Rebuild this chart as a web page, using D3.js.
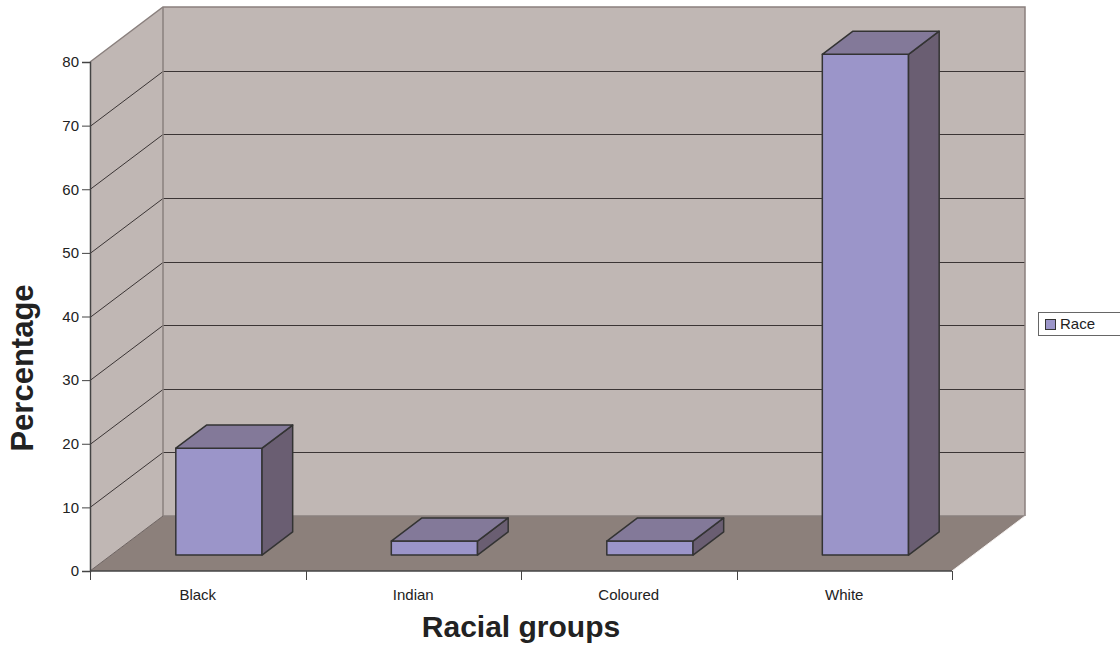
<!DOCTYPE html>
<html>
<head>
<meta charset="utf-8">
<script src="https://cdn.jsdelivr.net/npm/d3@7/dist/d3.min.js"></script>
<style>
  html, body { margin: 0; padding: 0; background: #fff; }
  svg { display: block; font-family: "Liberation Sans", Arial, sans-serif; }
</style>
</head>
<body>
<svg id="chart" width="1120" height="647"></svg>
<script>
// Data
const categories = ["Black", "Indian", "Coloured", "White"];
const raceValues = [16.8, 2.2, 2.2, 78.7];
const yTicks = [0, 10, 20, 30, 40, 50, 60, 70, 80];
const seriesName = "Race";

const svg = d3.select("#chart");

// Plot frame (front plane) and 3D depth offset
const x0 = 90, x1 = 952, yBase = 571, yTop = 62;
const depthX = 73, depthY = -55;
const barFront = 0.29, barBack = 0.71;

const x = d3.scaleBand().domain(categories).range([x0, x1])
  .paddingInner(0.6).paddingOuter(0.3);
const y = d3.scaleLinear().domain([0, 80]).range([yBase, yTop]);

const wallFill = "#c0b7b4", floorFill = "#8c807b", edge = "#8a807e";
const gridColor = "#3b3535";

const pts = a => a.map(p => p.join(",")).join(" ");

// Side wall
svg.append("polygon")
  .attr("points", pts([[x0, y(80)], [x0 + depthX, y(80) + depthY], [x0 + depthX, yBase + depthY], [x0, yBase]]))
  .attr("fill", wallFill).attr("stroke", "none");
// Back wall
svg.append("polygon")
  .attr("points", pts([[x0 + depthX, y(80) + depthY], [x1 + depthX, y(80) + depthY], [x1 + depthX, yBase + depthY], [x0 + depthX, yBase + depthY]]))
  .attr("fill", wallFill).attr("stroke", "none");
// Floor
svg.append("polygon")
  .attr("points", pts([[x0, yBase], [x1, yBase], [x1 + depthX, yBase + depthY], [x0 + depthX, yBase + depthY]]))
  .attr("fill", floorFill).attr("stroke", "none");

// Gridlines on side and back walls
const grid = svg.append("g").attr("fill", "none").attr("stroke", gridColor).attr("stroke-width", 1);
yTicks.filter(v => v > 0 && v < 80).forEach(v => {
  const yy = Math.round(y(v)) + 0.5;
  grid.append("polyline")
    .attr("points", pts([[x0, yy], [x0 + depthX, yy + depthY], [x1 + depthX, yy + depthY]]));
});

// Wall edges
const edges = svg.append("g").attr("fill", "none").attr("stroke", edge).attr("stroke-width", 1.5);
edges.append("polyline")
  .attr("points", pts([[x0, y(80)], [x0 + depthX, y(80) + depthY], [x1 + depthX, y(80) + depthY], [x1 + depthX, yBase + depthY]]));
edges.append("line")
  .attr("x1", x0 + depthX).attr("y1", y(80) + depthY)
  .attr("x2", x0 + depthX).attr("y2", yBase + depthY);
edges.append("line")
  .attr("x1", x0 + depthX).attr("y1", yBase + depthY)
  .attr("x2", x1 + depthX).attr("y2", yBase + depthY);
svg.append("polyline")
  .attr("points", pts([[x0, yBase], [x0 + depthX, yBase + depthY]]))
  .attr("fill", "none").attr("stroke", "#6e6462").attr("stroke-width", 1);
svg.append("polyline")
  .attr("points", pts([[x1, yBase], [x1 + depthX, yBase + depthY]]))
  .attr("fill", "none").attr("stroke", "#f4f0ef").attr("stroke-width", 1);

// 3D bars
const bars = svg.append("g").attr("stroke", "#333").attr("stroke-width", 1.5).attr("stroke-linejoin", "round");
categories.forEach((c, i) => {
  const v = raceValues[i];
  const fx = x(c) + barFront * depthX;
  const fy = barFront * depthY;
  const w = x.bandwidth();
  const ddx = (barBack - barFront) * depthX, ddy = (barBack - barFront) * depthY;
  const top = y(v) + fy, bot = y(0) + fy;
  // front face
  bars.append("polygon")
    .attr("points", pts([[fx, top], [fx + w, top], [fx + w, bot], [fx, bot]]))
    .attr("fill", "#9b95c9");
  // side face
  bars.append("polygon")
    .attr("points", pts([[fx + w, top], [fx + w + ddx, top + ddy], [fx + w + ddx, bot + ddy], [fx + w, bot]]))
    .attr("fill", "#6a5e72");
  // top face
  bars.append("polygon")
    .attr("points", pts([[fx, top], [fx + ddx, top + ddy], [fx + w + ddx, top + ddy], [fx + w, top]]))
    .attr("fill", "#837999");
});

// Value axis
const yAxis = svg.append("g")
  .attr("transform", `translate(${x0},0)`)
  .call(d3.axisLeft(y).tickValues(yTicks).tickSize(8).tickPadding(3).tickFormat(d3.format("d")));
yAxis.select(".domain").attr("stroke", "#444").attr("stroke-width", 1.5);
yAxis.selectAll(".tick line").attr("stroke", "#444");
yAxis.selectAll(".tick text").attr("font-size", 15).attr("fill", "#222")
  .attr("font-family", "'Liberation Sans', Arial, sans-serif");

// Category axis: boundary ticks plus centred labels
const bounds = [x0].concat(categories.map((c, i) => x0 + (i + 1) * x.step()));
const xAxis = svg.append("g");
xAxis.append("line").attr("x1", x0).attr("x2", x1).attr("y1", yBase).attr("y2", yBase)
  .attr("stroke", "#444").attr("stroke-width", 1.5);
xAxis.selectAll("line.tk").data(bounds).join("line").attr("class", "tk")
  .attr("x1", d => Math.round(d) + 0.5).attr("x2", d => Math.round(d) + 0.5)
  .attr("y1", yBase).attr("y2", yBase + 9).attr("stroke", "#444");
xAxis.selectAll("text").data(categories).join("text")
  .attr("x", d => x(d) + x.bandwidth() / 2)
  .attr("y", 600)
  .attr("text-anchor", "middle").attr("font-size", 15).attr("fill", "#222")
  .text(d => d);

// Axis titles
svg.append("text")
  .attr("transform", "translate(33,368) rotate(-90)")
  .attr("text-anchor", "middle").attr("font-size", 31).attr("font-weight", "bold").attr("fill", "#222")
  .text("Percentage");
svg.append("text")
  .attr("x", 521).attr("y", 637)
  .attr("text-anchor", "middle").attr("font-size", 30).attr("font-weight", "bold").attr("fill", "#222")
  .text("Racial groups");

// Legend
const legend = svg.append("g");
legend.append("rect").attr("x", 1038.5).attr("y", 312.5).attr("width", 90).attr("height", 23)
  .attr("fill", "#fff").attr("stroke", "#666");
legend.append("rect").attr("x", 1045.5).attr("y", 319.5).attr("width", 10).attr("height", 10)
  .attr("fill", "#9b95c9").attr("stroke", "#333");
legend.append("text").attr("x", 1060).attr("y", 329).attr("font-size", 15).attr("fill", "#222")
  .text(seriesName);
</script>
</body>
</html>
